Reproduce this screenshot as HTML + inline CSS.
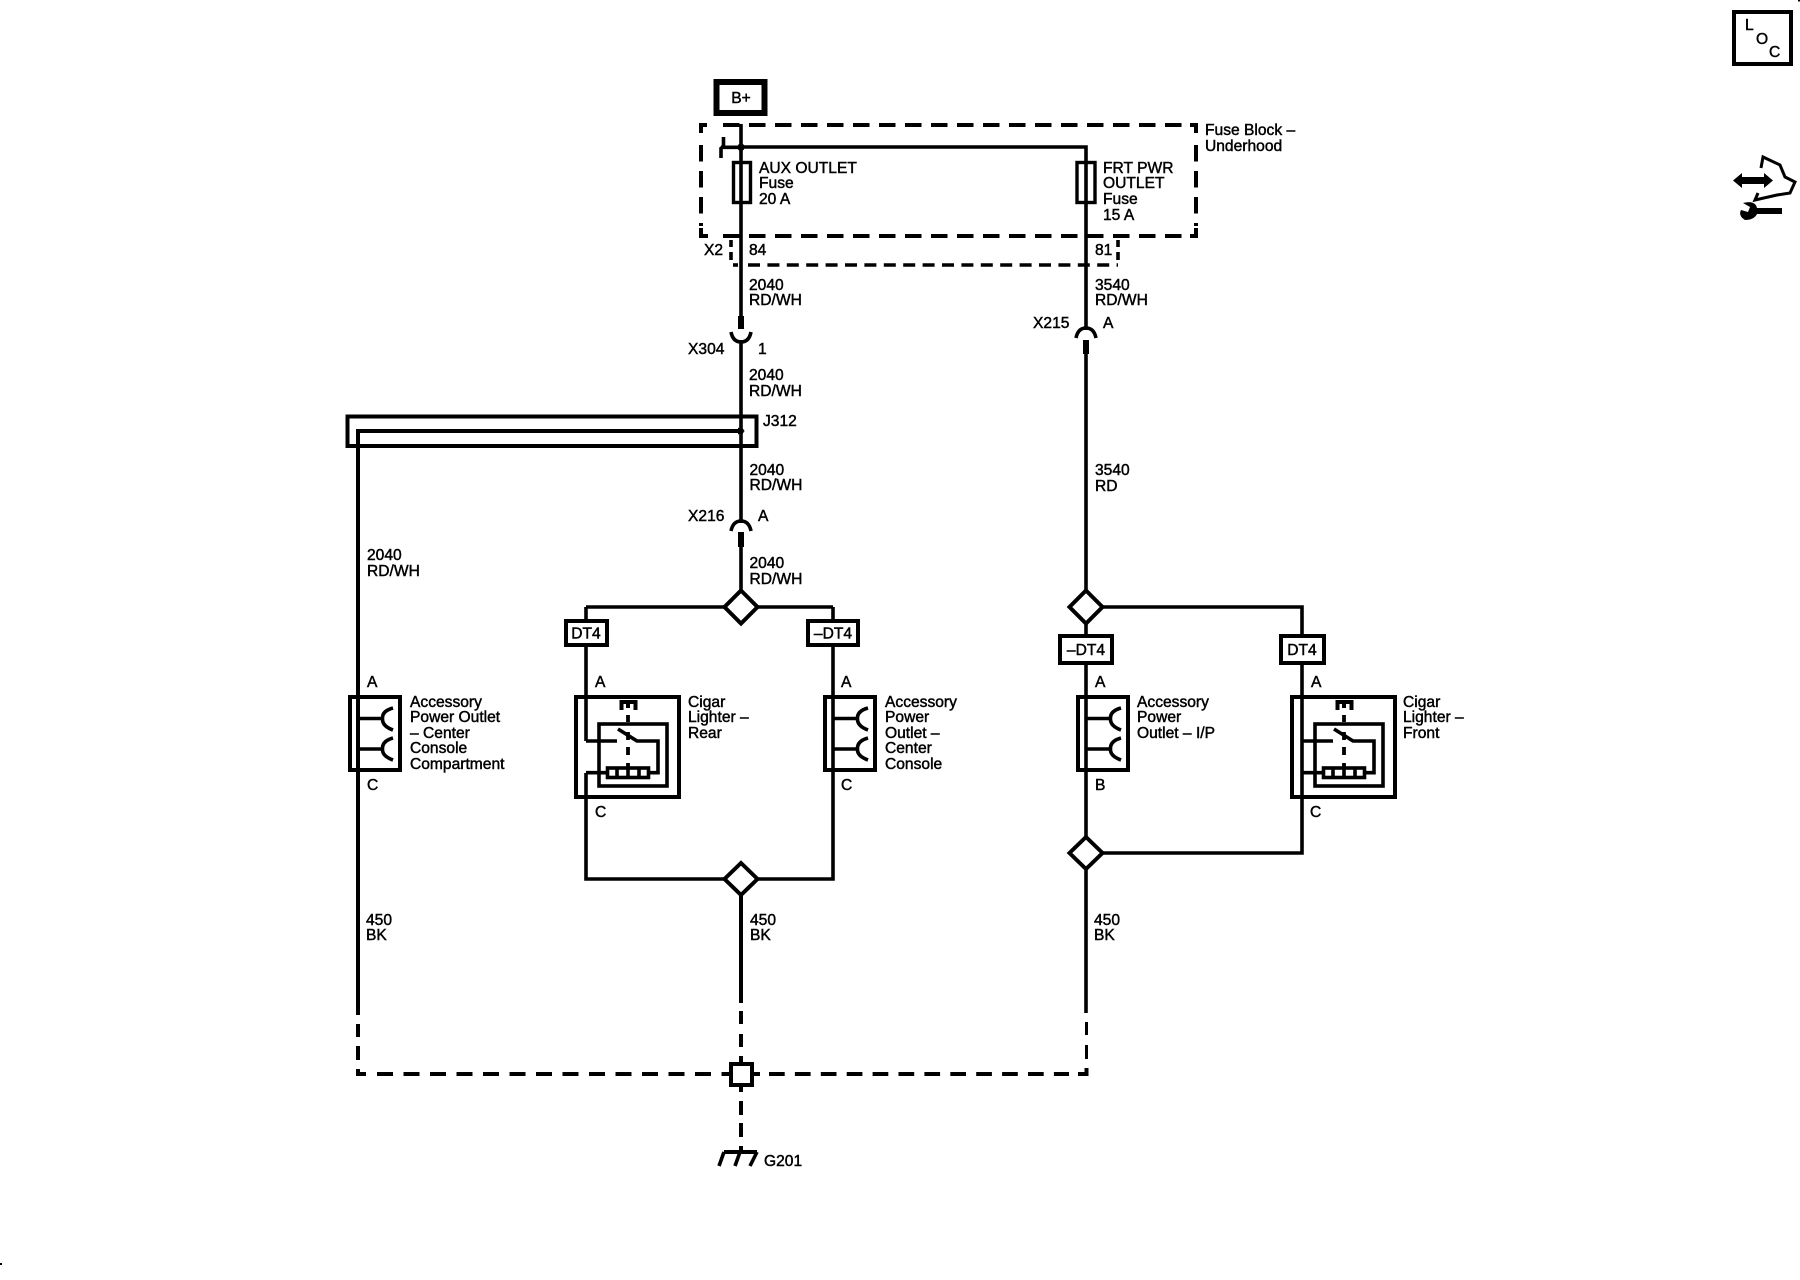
<!DOCTYPE html>
<html><head><meta charset="utf-8"><style>
html,body{margin:0;padding:0;background:#fff}
svg{display:block}
text{font-family:"Liberation Sans",sans-serif;font-size:15.6px;fill:#000;stroke:#000;stroke-width:.45}
.w{fill:none;stroke:#000;stroke-width:3.6}
.t{fill:none;stroke:#000;stroke-width:4}
.d{fill:none;stroke:#000;stroke-width:4;stroke-dasharray:16.5 9.5}
.s{fill:none;stroke:#000;stroke-width:3.4;stroke-dasharray:12 7.4}
.b{fill:#fff;stroke:#000;stroke-width:4}
</style></head><body>
<svg width="1800" height="1280" viewBox="0 0 1800 1280" xmlns="http://www.w3.org/2000/svg">
<defs>
<g id="outlet">
<rect class="t" x="350" y="697" width="50" height="73"/>
<path class="w" d="M393 708Q382 711 382.500 718.500Q382 726 393 730M393 738Q382 741 382.500 749Q382 756 393 760M358 718.500H382M358 749H382"/>
</g>
<g id="lighter">
<rect class="t" x="1292" y="697" width="103" height="100"/>
<rect class="w" x="1315" y="724" width="68" height="62"/>
<rect class="w" x="1323.500" y="768" width="41" height="9.500"/>
<path class="w" d="M1333 768V777.500M1344 768V777.500M1355 768V777.500"/>
<path class="w" d="M1302 741H1333M1334 729L1353 741H1374V772.700H1365M1302 772.700H1322"/>
<path class="t" d="M1337.500 710V702H1351.500V710M1344 702V708"/>
<path d="M1344 715V722M1344 732V740M1344 747V755M1344 763V767" fill="none" stroke="#000" stroke-width="3.800"/>
</g>
</defs>

<!-- B+ -->
<rect x="716.500" y="82" width="48" height="31" fill="#fff" stroke="#000" stroke-width="6"/>
<text x="741" y="103" text-anchor="middle">B+</text>

<!-- Fuse block -->
<path class="t" d="M707 125H701V133M1190 125H1196V133M701 228V236H708M1190 236H1196V228"/>
<path class="d" d="M723 125H1190M723 236H1190" stroke-dashoffset="0"/>
<path class="d" d="M701 145V226M1196 145V226"/>
<path class="w" d="M731 240V247M731 252V260"/>
<path class="w" d="M733 265H738"/>
<path class="s" d="M748 265H1118"/>
<path class="w" d="M1118 240V247M1118 252V260"/>

<!-- main wires -->
<path class="w" d="M741 124V607"/>
<path class="w" d="M741 147H1086V607"/>
<path class="w" d="M723.500 137V145Q723 147 721 148.500V158M741 147.300H721"/>
<circle cx="741" cy="147.300" r="3.700"/>
<rect x="733.500" y="162.500" width="17" height="40" fill="#fff" stroke="#000" stroke-width="3.400"/>
<path class="w" d="M741 162V203"/>
<rect x="1077" y="162.500" width="18" height="40" fill="#fff" stroke="#000" stroke-width="3.400"/>
<path class="w" d="M1086 162V203"/>

<!-- X304 -->
<rect x="735" y="329" width="12" height="11" fill="#fff"/>
<rect x="738" y="316" width="6" height="13"/>
<path class="w" d="M731 332Q733 342 741 342Q749 342 751 332"/>
<!-- X215 -->
<rect x="1079" y="330" width="14" height="10" fill="#fff"/>
<path class="w" d="M1076 338Q1078 328 1086 328Q1094 328 1096 338"/>
<rect x="1083" y="340" width="6" height="14"/>
<!-- X216 -->
<rect x="734" y="523" width="14" height="9" fill="#fff"/>
<path class="w" d="M731 531Q733 521 741 521Q749 521 751 531"/>
<rect x="738" y="532" width="6" height="15"/>

<!-- J312 -->
<rect class="t" x="347.500" y="416.500" width="409" height="29.500"/>
<path class="t" d="M741 431H358V1015"/>
<path d="M738 427.500L745 431L738 434.500Z"/>
<circle cx="741" cy="431" r="3"/>

<!-- junction wires -->
<path class="w" d="M586 607H833M586 607V741M586 773V879H833V607"/>
<path class="t" d="M741 895V1003"/>
<path class="w" d="M1086 607V1013"/>
<path class="w" d="M1086 607H1302V853H1086"/>

<!-- outlets -->
<use href="#outlet"/>
<use href="#outlet" x="475"/>
<use href="#outlet" x="728"/>
<!-- lighters -->
<use href="#lighter"/>
<use href="#lighter" x="-716"/>

<!-- diamonds -->
<path class="b" d="M741 590.500L757.500 607L741 623.500L724.500 607Z"/>
<path class="b" d="M1086 590.500L1102.500 607L1086 623.500L1069.500 607Z"/>
<path class="b" d="M741 863L757.500 879L741 895L724.500 879Z"/>
<path class="b" d="M1086 837L1102.500 853L1086 869L1069.500 853Z"/>

<!-- DT4 boxes -->
<rect class="b" x="566" y="621" width="41" height="24"/>
<text x="586" y="638.500" text-anchor="middle">DT4</text>
<rect class="b" x="808" y="621" width="50" height="24"/>
<text x="833" y="638.500" text-anchor="middle">–DT4</text>
<rect class="b" x="1060" y="636" width="52" height="27"/>
<text x="1086" y="655" text-anchor="middle">–DT4</text>
<rect class="b" x="1281" y="636" width="43" height="27"/>
<text x="1302" y="655" text-anchor="middle">DT4</text>

<!-- bottom dashed -->
<path class="t" d="M358 1024V1037M358 1046V1060M358 1069V1074H366"/>
<path fill="none" stroke="#000" stroke-width="4" stroke-dasharray="16 10.500" d="M377 1074H730"/>
<path fill="none" stroke="#000" stroke-width="4" stroke-dasharray="15.700 10.200" d="M769 1074H1069"/>
<path class="t" d="M754 1074H760M1078 1074H1086.500V1068"/>
<path fill="none" stroke="#000" stroke-width="3" d="M1086.500 1022V1035M1086.500 1045V1059"/>
<path class="t" d="M741 1011V1024M741 1034V1047M741 1056V1062M741 1087V1092M741 1101V1115M741 1123V1137M741 1146V1152"/>
<rect class="b" x="731" y="1064" width="21" height="21"/>
<path class="t" d="M724 1152H757"/>
<path d="M724 1152L719 1166M740 1152L735 1166M757 1152L750 1166" fill="none" stroke="#000" stroke-width="3.600"/>

<!-- text -->
<text x="759" y="173">AUX OUTLET</text>
<text x="759" y="188">Fuse</text>
<text x="759" y="204">20 A</text>
<text x="1103" y="173">FRT PWR</text>
<text x="1103" y="188">OUTLET</text>
<text x="1103" y="204">Fuse</text>
<text x="1103" y="220">15 A</text>
<text x="1205" y="135">Fuse Block –</text>
<text x="1205" y="151">Underhood</text>
<text x="704" y="255">X2</text>
<text x="749" y="255">84</text>
<text x="1095" y="255">81</text>
<text x="749" y="290">2040</text>
<text x="749" y="305">RD/WH</text>
<text x="1095" y="290">3540</text>
<text x="1095" y="305">RD/WH</text>
<text x="1033" y="328">X215</text>
<text x="1103" y="328">A</text>
<text x="688" y="354">X304</text>
<text x="758" y="354">1</text>
<text x="749" y="380">2040</text>
<text x="749" y="396">RD/WH</text>
<text x="763" y="426">J312</text>
<text x="749.500" y="475">2040</text>
<text x="749.500" y="490">RD/WH</text>
<text x="1095" y="475">3540</text>
<text x="1095" y="491">RD</text>
<text x="688" y="521">X216</text>
<text x="758" y="521">A</text>
<text x="749.500" y="568">2040</text>
<text x="749.500" y="584">RD/WH</text>
<text x="367" y="560">2040</text>
<text x="367" y="576">RD/WH</text>
<text x="367" y="687">A</text>
<text x="367" y="790">C</text>
<text x="595" y="687">A</text>
<text x="595" y="817">C</text>
<text x="841" y="687">A</text>
<text x="841" y="790">C</text>
<text x="1095" y="687">A</text>
<text x="1095" y="790">B</text>
<text x="1311" y="687">A</text>
<text x="1310" y="817">C</text>
<text x="410" y="707">Accessory</text>
<text x="410" y="722">Power Outlet</text>
<text x="410" y="738">– Center</text>
<text x="410" y="753">Console</text>
<text x="410" y="769">Compartment</text>
<text x="688" y="707">Cigar</text>
<text x="688" y="722">Lighter –</text>
<text x="688" y="738">Rear</text>
<text x="885" y="707">Accessory</text>
<text x="885" y="722">Power</text>
<text x="885" y="738">Outlet –</text>
<text x="885" y="753">Center</text>
<text x="885" y="769">Console</text>
<text x="1137" y="707">Accessory</text>
<text x="1137" y="722">Power</text>
<text x="1137" y="738">Outlet – I/P</text>
<text x="1403" y="707">Cigar</text>
<text x="1403" y="722">Lighter –</text>
<text x="1403" y="738">Front</text>
<text x="366" y="925">450</text>
<text x="366" y="940">BK</text>
<text x="750" y="925">450</text>
<text x="750" y="940">BK</text>
<text x="1094" y="925">450</text>
<text x="1094" y="940">BK</text>
<text x="764" y="1166">G201</text>

<!-- LOC -->
<rect class="t" x="1734" y="12" width="57" height="52"/>
<text x="1745" y="30">L</text>
<text x="1756" y="44">O</text>
<text x="1769" y="57">C</text>

<!-- service icon -->
<path d="M1761 168L1763 157L1780 165L1785 177L1795 182L1790 193L1777 195L1755 200L1758 193" fill="none" stroke="#000" stroke-width="3"/>
<path d="M1733 180.500L1742 173V177H1764V173L1773 180.500L1764 188V184H1742V188Z"/>
<path d="M1743 203Q1755 200 1757 208H1782V214H1757Q1754 220 1745 220Q1738 216 1741 210L1748 212L1750 207Z"/>

<rect x="1798" y="0" width="2" height="1.500"/>
<rect x="0" y="1263" width="2" height="2"/>
</svg>
</body></html>
